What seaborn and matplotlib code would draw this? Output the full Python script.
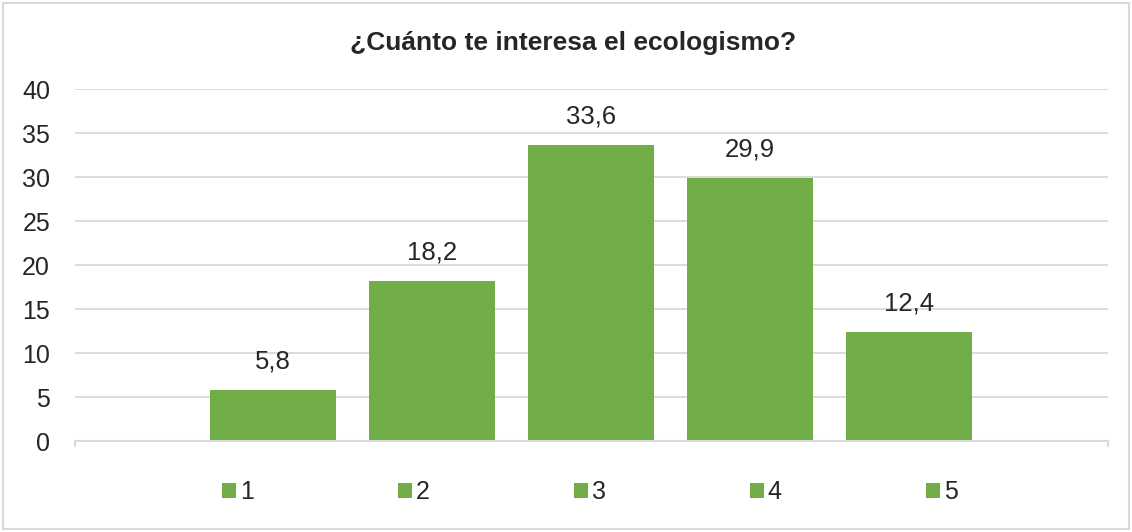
import matplotlib
matplotlib.use("Agg")
import matplotlib.pyplot as plt
import seaborn as sns
import pandas as pd
from matplotlib.patches import Rectangle, Patch

# ------------------- data -------------------
categories = ["1", "2", "3", "4", "5"]
values = [5.8, 18.2, 33.6, 29.9, 12.4]
labels = ["5,8", "18,2", "33,6", "29,9", "12,4"]
title = "¿Cuánto te interesa el ecologismo?"

green = "#70AD47"
grid_color = "#D9D9D9"

sns.set_style("white")
plt.rcParams["font.family"] = ["Liberation Sans", "DejaVu Sans"]

df = pd.DataFrame({"cat": categories, "val": values})

fig = plt.figure(figsize=(11.32, 5.32), dpi=100)
ax = fig.add_axes([0.0663, 0.171, 0.9125, 0.6617])

sns.barplot(data=df, x="cat", y="val", hue="cat", palette=[green] * 5,
            width=0.79, dodge=False, legend=False, ax=ax, saturation=1,
            linewidth=0)

# data labels
for cont, lab in zip(ax.containers, labels):
    ax.bar_label(cont, labels=[lab], padding=12, fontsize=18.5)

ax.set_ylim(0, 40)
ax.set_yticks(range(0, 41, 5))
ax.set_xlim(-1.245, 5.25)
ax.set_xticks([])
ax.set_xlabel("")
ax.set_ylabel("")
ax.yaxis.set_tick_params(labelsize=18, length=0, pad=18)
ax.grid(axis="y", color=grid_color, linewidth=1.3)
ax.set_axisbelow(True)

for side in ["top", "right", "left"]:
    ax.spines[side].set_visible(False)
ax.spines["bottom"].set_color(grid_color)
ax.spines["bottom"].set_linewidth(1.5)
# small end ticks of the category axis
for xe in ax.get_xlim():
    ax.plot([xe, xe], [0, -0.6], color=grid_color, lw=1.5, clip_on=False)

# chart title, centred on the whole chart area like Excel does
fig.text(0.506, 0.906, title, fontsize=19, fontweight="bold",
         ha="center", va="baseline")

handles = [Patch(facecolor=green, edgecolor="none") for _ in categories]
fig.legend(handles, categories, loc="center", bbox_to_anchor=(0.521, 0.075),
           ncol=5, frameon=False, fontsize=18, handlelength=0.56,
           handleheight=0.56, handletextpad=0.16, columnspacing=5.76)

fig.add_artist(Rectangle((0.003, 0.006), 0.994, 0.988, transform=fig.transFigure,
                         fill=False, edgecolor=grid_color, linewidth=1.5))

fig.savefig("out.png", dpi=100)
